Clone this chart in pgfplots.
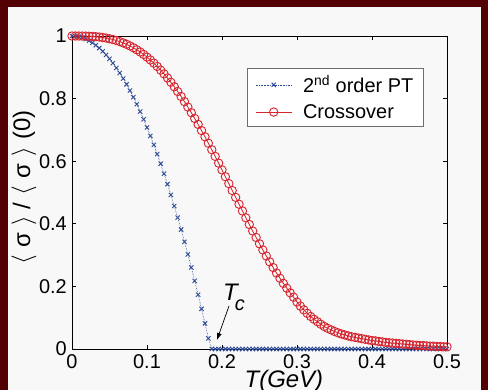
\documentclass[border=0pt]{standalone}
\usepackage{pgfplots}
\pgfplotsset{compat=1.18}
\usepackage{pgfplotstable}
\usepackage{fontspec}
\setmainfont{Liberation Sans}
\usetikzlibrary{arrows.meta}

\definecolor{frame}{RGB}{82,0,4}
\definecolor{panel}{RGB}{248,248,248}
\definecolor{ptblue}{RGB}{45,75,150}
\definecolor{cored}{RGB}{215,35,45}
\definecolor{legframe}{RGB}{110,110,110}

% normalised condensate <sigma>/<sigma>(0) vs temperature
\pgfplotstableread{
T      sec    cross
0.0000 1.0000 1.0000
0.0045 0.9994 1.0000
0.0091 0.9976 0.9999
0.0136 0.9946 0.9998
0.0182 0.9903 0.9996
0.0227 0.9849 0.9992
0.0273 0.9783 0.9986
0.0318 0.9704 0.9978
0.0364 0.9614 0.9967
0.0409 0.9511 0.9952
0.0455 0.9396 0.9935
0.0500 0.9270 0.9913
0.0545 0.9131 0.9887
0.0591 0.8980 0.9857
0.0636 0.8817 0.9822
0.0682 0.8642 0.9781
0.0727 0.8455 0.9735
0.0773 0.8255 0.9683
0.0818 0.8044 0.9625
0.0864 0.7821 0.9560
0.0909 0.7585 0.9489
0.0955 0.7338 0.9411
0.1000 0.7078 0.9326
0.1045 0.6806 0.9234
0.1091 0.6523 0.9134
0.1136 0.6227 0.9027
0.1182 0.5919 0.8912
0.1227 0.5599 0.8790
0.1273 0.5267 0.8660
0.1318 0.4923 0.8523
0.1364 0.4567 0.8378
0.1409 0.4199 0.8227
0.1455 0.3818 0.8068
0.1500 0.3426 0.7902
0.1545 0.3021 0.7729
0.1591 0.2605 0.7550
0.1636 0.2176 0.7366
0.1682 0.1735 0.7175
0.1727 0.1283 0.6980
0.1773 0.0818 0.6779
0.1818 0.0341 0.6575
0.1864 0 0.6366
0.1909 0 0.6154
0.1955 0 0.5939
0.2000 0 0.5722
0.2045 0 0.5504
0.2091 0 0.5284
0.2136 0 0.5064
0.2182 0 0.4845
0.2227 0 0.4626
0.2273 0 0.4408
0.2318 0 0.4192
0.2364 0 0.3979
0.2409 0 0.3770
0.2455 0 0.3563
0.2500 0 0.3361
0.2545 0 0.3164
0.2591 0 0.2971
0.2636 0 0.2784
0.2682 0 0.2603
0.2727 0 0.2428
0.2773 0 0.2260
0.2818 0 0.2098
0.2864 0 0.1943
0.2909 0 0.1795
0.2955 0 0.1653
0.3000 0 0.1500
0.3045 0 0.1370
0.3091 0 0.1250
0.3136 0 0.1140
0.3182 0 0.1040
0.3227 0 0.0950
0.3273 0 0.0870
0.3318 0 0.0790
0.3364 0 0.0720
0.3409 0 0.0660
0.3455 0 0.0610
0.3500 0 0.0560
0.3545 0 0.0520
0.3591 0 0.0480
0.3636 0 0.0450
0.3682 0 0.0420
0.3727 0 0.0390
0.3773 0 0.0370
0.3818 0 0.0350
0.3864 0 0.0330
0.3909 0 0.0310
0.3955 0 0.0290
0.4000 0 0.0270
0.4045 0 0.0260
0.4091 0 0.0240
0.4136 0 0.0230
0.4182 0 0.0210
0.4227 0 0.0200
0.4273 0 0.0190
0.4318 0 0.0180
0.4364 0 0.0170
0.4409 0 0.0160
0.4455 0 0.0150
0.4500 0 0.0140
0.4545 0 0.0130
0.4591 0 0.0120
0.4636 0 0.0110
0.4682 0 0.0110
0.4727 0 0.0100
0.4773 0 0.0090
0.4818 0 0.0090
0.4864 0 0.0080
0.4909 0 0.0080
0.4955 0 0.0070
0.5000 0 0.0070
}\sigmadata

\begin{document}
\begin{tikzpicture}
% page frame and white panel
\fill[frame] (0,0) rectangle (488bp,390bp);
\fill[panel] (8bp,0) rectangle (481bp,383bp);
\begin{axis}[
  at={(72bp,41bp)}, anchor=south west,
  scale only axis, width=375bp, height=313bp,
  xmin=0, xmax=0.5, ymin=0, ymax=1,
  xtick={0,0.1,0.2,0.3,0.4,0.5},
  ytick={0,0.2,0.4,0.6,0.8,1},
  /pgf/number format/assume math mode=true,
  tick align=inside,
  major tick length=4bp,
  tick style={black, line width=0.6bp},
  axis line style={black, line width=0.8bp},
  tick label style={font=\fontsize{20}{20}\selectfont, inner sep=0pt},
  xticklabel style={yshift=-5bp},
  yticklabel style={xshift=-5bp},
  xlabel={T(GeV)},
  ylabel={$\langle$\hspace{0.3em}σ\hspace{0.3em}$\rangle$\hspace{0.3em}/\hspace{0.3em}$\langle$\hspace{0.3em}σ\hspace{0.3em}$\rangle$\hspace{0.3em}(0)},
  every axis x label/.style={at={(axis description cs:0.565,0)}, anchor=north,
    yshift=-21bp, inner sep=0pt, font=\fontsize{24}{24}\selectfont\itshape},
  every axis y label/.style={at={(axis description cs:-0.128,0.516)}, anchor=center,
    rotate=90, inner sep=0pt, font=\fontsize{24}{24}\selectfont},
  clip=false,
  legend cell align=left,
  legend style={at={(rel axis cs:0.4667,0.8978)}, anchor=north west,
    draw=legframe, line width=0.6bp, fill=white,
    font=\fontsize{20}{22}\selectfont,
    inner xsep=8bp, inner ysep=5bp, row sep=6bp,
    /tikz/every odd column/.append style={column sep=9bp}},
  legend image code/.code={%
    \draw[mark repeat=2, mark phase=2, #1]
      plot coordinates {(0bp,0bp) (18bp,0bp) (36bp,0bp)};},
]
\addplot[ptblue, densely dotted, line width=0.6bp, mark=x, mark size=3bp,
  mark options={solid, line width=0.9bp}] table[x=T, y=sec] {\sigmadata};
\addlegendentry{2\textsuperscript{nd} order PT}
\addplot[cored, solid, line width=0.8bp, mark=o, mark size=4.2bp,
  mark options={solid, line width=0.9bp}] table[x=T, y=cross] {\sigmadata};
\addlegendentry{Crossover}

% critical temperature marker
\node[anchor=base west, inner sep=0pt] at (axis cs:0.2013,0.1565)
  {\fontsize{24}{24}\selectfont\itshape T\kern-3bp\raisebox{-10bp}{\fontsize{20}{20}\selectfont c}};
\draw[-{Latex[length=7bp,width=5bp]}, line width=0.7bp]
  (axis cs:0.2093,0.1374) -- (axis cs:0.1933,0.0288);
\end{axis}
\pgfresetboundingbox
\useasboundingbox (0,0) rectangle (488bp,390bp);
\end{tikzpicture}
\end{document}
